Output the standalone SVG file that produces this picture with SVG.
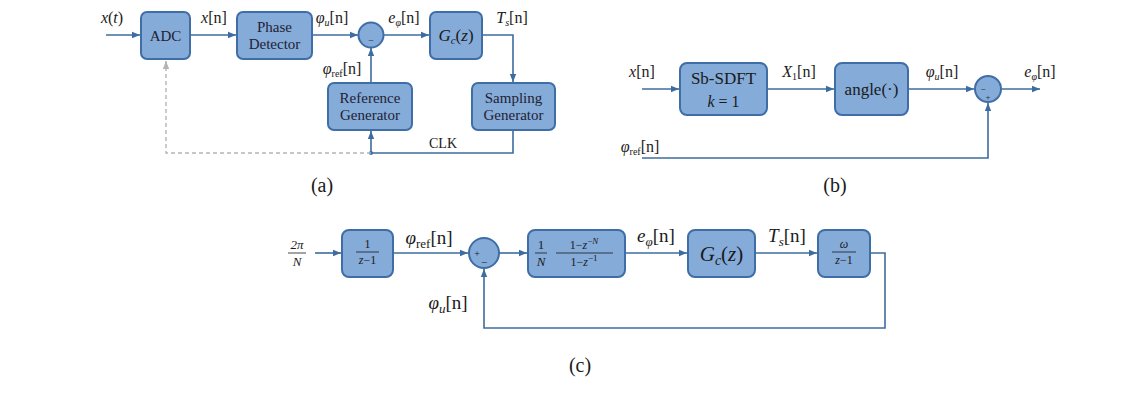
<svg xmlns="http://www.w3.org/2000/svg" width="1143" height="409" viewBox="0 0 1143 409">
<style>
.box{fill:#85abd9;stroke:#3f6ea6;stroke-width:2}
.ln{fill:none;stroke:#3d6c9f;stroke-width:1.6}
.dash{fill:none;stroke:#b4b4b4;stroke-width:1.4;stroke-dasharray:4 3}
text{font-family:"Liberation Serif","DejaVu Serif",serif;fill:#1a1a1a}
.t{font-size:16px}
.tb{font-size:15px;text-anchor:middle;fill:#223}
.c{text-anchor:middle}
.i{font-style:italic}
.cap{font-size:20px;text-anchor:middle}
</style>
<defs>
<marker id="ar" viewBox="0 0 10 10" refX="10" refY="5" markerWidth="8" markerHeight="8" markerUnits="userSpaceOnUse" orient="auto">
<path d="M0,1 L10,5 L0,9 z" fill="#3d6c9f"/>
</marker>
<marker id="arg" viewBox="0 0 10 10" refX="10" refY="5" markerWidth="8" markerHeight="8" markerUnits="userSpaceOnUse" orient="auto">
<path d="M0,1 L10,5 L0,9 z" fill="#b4b4b4"/>
</marker>
</defs>

<g id="connectors">
<!-- (a) -->
<line class="ln" x1="106" y1="35" x2="140" y2="35" marker-end="url(#ar)"/>
<line class="ln" x1="190" y1="35" x2="236" y2="35" marker-end="url(#ar)"/>
<line class="ln" x1="312" y1="35" x2="358" y2="35" marker-end="url(#ar)"/>
<line class="ln" x1="384" y1="35" x2="429" y2="35" marker-end="url(#ar)"/>
<polyline class="ln" points="482,35 513,35 513,82" marker-end="url(#ar)"/>
<line class="ln" x1="371" y1="83" x2="371" y2="48" marker-end="url(#ar)"/>
<polyline class="ln" points="513,130 513,153 371,153 371,131" marker-end="url(#ar)"/>
<circle cx="371" cy="153" r="2" fill="#3d6c9f"/>
<polyline class="dash" points="371,153 166,153 166,62"/>
<line x1="166" y1="68" x2="166" y2="61" stroke="#b4b4b4" stroke-width="1.4" marker-end="url(#arg)"/>
<!-- (b) -->
<line class="ln" x1="642" y1="89" x2="679" y2="89" marker-end="url(#ar)"/>
<line class="ln" x1="767" y1="89" x2="834" y2="89" marker-end="url(#ar)"/>
<line class="ln" x1="908" y1="89" x2="974" y2="89" marker-end="url(#ar)"/>
<line class="ln" x1="1002" y1="89" x2="1040" y2="89" marker-end="url(#ar)"/>
<polyline class="ln" points="642,158 988,158 988,103" marker-end="url(#ar)"/>
<!-- (c) -->
<line class="ln" x1="315" y1="253" x2="341" y2="253" marker-end="url(#ar)"/>
<line class="ln" x1="393" y1="253" x2="468" y2="253" marker-end="url(#ar)"/>
<line class="ln" x1="499" y1="253" x2="527" y2="253" marker-end="url(#ar)"/>
<line class="ln" x1="625" y1="253" x2="687" y2="253" marker-end="url(#ar)"/>
<line class="ln" x1="755" y1="253" x2="817" y2="253" marker-end="url(#ar)"/>
<polyline class="ln" points="870,253 885,253 885,328 484,328 484,269" marker-end="url(#ar)"/>
</g>

<!-- (a) nodes -->
<g id="adc"><rect class="box" x="141" y="12" width="49" height="47" rx="6"/><text class="tb" x="165.5" y="41">ADC</text></g>
<g id="phase-detector"><rect class="box" x="237" y="12" width="75" height="47" rx="6"/><text class="tb" x="274.5" y="32">Phase</text><text class="tb" x="274.5" y="49">Detector</text></g>
<g id="sum-a"><circle class="box" cx="371" cy="35" r="12.5"/><text class="c" x="371" y="44" font-size="10">−</text></g>
<g id="gc-a"><rect class="box" x="430" y="12" width="52" height="47" rx="6"/><text class="c" x="456" y="41" font-size="17"><tspan class="i">G</tspan><tspan class="i" font-size="11" dy="3">c</tspan><tspan dy="-3">(</tspan><tspan class="i">z</tspan>)</text></g>
<g id="reference-generator"><rect class="box" x="328" y="83" width="84" height="47" rx="6"/><text class="tb" x="370" y="103">Reference</text><text class="tb" x="370" y="120">Generator</text></g>
<g id="sampling-generator"><rect class="box" x="472" y="83" width="83" height="47" rx="6"/><text class="tb" x="513.5" y="103">Sampling</text><text class="tb" x="513.5" y="120">Generator</text></g>
<g id="labels-a">
<text class="t c" x="112" y="23"><tspan class="i">x</tspan>(<tspan class="i">t</tspan>)</text>
<text class="t c" x="214" y="23"><tspan class="i">x</tspan>[n]</text>
<text class="t c" x="332" y="23"><tspan class="i">φ</tspan><tspan class="i" font-size="10" dy="3">u</tspan><tspan dy="-3">[n]</tspan></text>
<text class="t c" x="404" y="23"><tspan class="i">e</tspan><tspan class="i" font-size="10" dy="3">φ</tspan><tspan dy="-3">[n]</tspan></text>
<text class="t c" x="512" y="23"><tspan class="i">T</tspan><tspan class="i" font-size="10" dy="3">s</tspan><tspan dy="-3">[n]</tspan></text>
<text class="t c" x="342" y="74"><tspan class="i">φ</tspan><tspan font-size="10" dy="3">ref</tspan><tspan dy="-3">[n]</tspan></text>
<text class="c" x="443" y="148" font-size="14">CLK</text>
<text class="cap" x="322" y="192">(a)</text>
</g>

<!-- (b) nodes -->
<g id="sb-sdft"><rect class="box" x="680" y="63" width="87" height="52" rx="7"/><text class="c" x="723.5" y="84" font-size="17">Sb-SDFT</text><text class="c" x="723.5" y="107" font-size="16"><tspan class="i">k</tspan> = 1</text></g>
<g id="angle"><rect class="box" x="835" y="63" width="73" height="52" rx="7"/><text class="c" x="871.5" y="95" font-size="17">angle(·)</text></g>
<g id="sum-b"><circle class="box" cx="988" cy="89" r="13"/><text class="c" x="983" y="92" font-size="9">−</text><text class="c" x="988" y="100" font-size="8">+</text></g>
<g id="labels-b">
<text class="t c" x="642" y="77"><tspan class="i">x</tspan>[n]</text>
<text class="t c" x="799" y="77"><tspan class="i">X</tspan><tspan font-size="10" dy="3">1</tspan><tspan dy="-3">[n]</tspan></text>
<text class="t c" x="942" y="77"><tspan class="i">φ</tspan><tspan class="i" font-size="10" dy="3">u</tspan><tspan dy="-3">[n]</tspan></text>
<text class="t c" x="1040" y="77"><tspan class="i">e</tspan><tspan class="i" font-size="10" dy="3">φ</tspan><tspan dy="-3">[n]</tspan></text>
<text class="t c" x="640" y="152"><tspan class="i">φ</tspan><tspan font-size="10" dy="3">ref</tspan><tspan dy="-3">[n]</tspan></text>
<text class="cap" x="835" y="192">(b)</text>
</g>

<!-- (c) nodes -->
<g id="integrator"><rect class="box" x="342" y="230" width="51" height="47" rx="7"/><text class="c" x="367.5" y="248" font-size="12">1</text><line x1="356" y1="252" x2="379" y2="252" stroke="#1a1a1a" stroke-width="0.8"/><text class="c" x="367.5" y="264" font-size="12"><tspan class="i">z</tspan>−1</text></g>
<g id="sum-c"><circle class="box" cx="484" cy="253" r="15"/><text class="c" x="477" y="257" font-size="10">+</text><text class="c" x="484" y="266" font-size="11">−</text></g>
<g id="moving-average"><rect class="box" x="528" y="230" width="97" height="47" rx="7"/>
<text class="c" x="541" y="249" font-size="13">1</text><line x1="535" y1="253" x2="547" y2="253" stroke="#1a1a1a" stroke-width="0.8"/><text class="c i" x="541" y="266" font-size="13">N</text>
<text class="c" x="584" y="249" font-size="12">1−<tspan class="i">z</tspan><tspan font-size="9" dy="-5">−<tspan class="i">N</tspan></tspan></text><line x1="556" y1="253" x2="613" y2="253" stroke="#1a1a1a" stroke-width="0.8"/><text class="c" x="584" y="266" font-size="12">1−<tspan class="i">z</tspan><tspan font-size="9" dy="-5">−1</tspan></text></g>
<g id="gc-c"><rect class="box" x="688" y="230" width="67" height="47" rx="7"/><text class="c" x="721.5" y="261" font-size="21"><tspan class="i">G</tspan><tspan class="i" font-size="14" dy="4">c</tspan><tspan dy="-4">(</tspan><tspan class="i">z</tspan>)</text></g>
<g id="clock-integrator"><rect class="box" x="818" y="230" width="52" height="47" rx="7"/><text class="c i" x="844" y="248" font-size="12">ω</text><line x1="832" y1="252" x2="856" y2="252" stroke="#1a1a1a" stroke-width="0.8"/><text class="c" x="844" y="264" font-size="12"><tspan class="i">z</tspan>−1</text></g>
<g id="labels-c">
<text class="c i" x="297" y="249" font-size="13">2π</text><line x1="288" y1="253" x2="306" y2="253" stroke="#1a1a1a" stroke-width="0.8"/><text class="c i" x="297" y="266" font-size="13">N</text>
<text class="c" x="429" y="244" font-size="19"><tspan class="i">φ</tspan><tspan font-size="13" dy="4">ref</tspan><tspan dy="-4">[n]</tspan></text>
<text class="c" x="656" y="242" font-size="19"><tspan class="i">e</tspan><tspan class="i" font-size="13" dy="4">φ</tspan><tspan dy="-4">[n]</tspan></text>
<text class="c" x="787" y="242" font-size="19"><tspan class="i">T</tspan><tspan class="i" font-size="13" dy="4">s</tspan><tspan dy="-4">[n]</tspan></text>
<text class="c" x="448" y="309" font-size="19"><tspan class="i">φ</tspan><tspan class="i" font-size="13" dy="4">u</tspan><tspan dy="-4">[n]</tspan></text>
<text class="cap" x="580" y="372">(c)</text>
</g>
</svg>
